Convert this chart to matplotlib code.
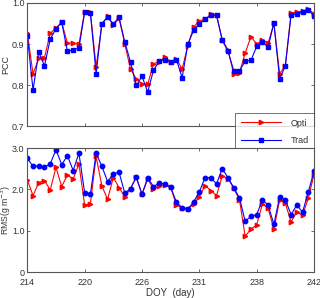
import matplotlib
matplotlib.use('Agg')
import matplotlib.pyplot as plt
import numpy as np

plt.rcParams['font.family'] = ['Liberation Sans', 'DejaVu Sans']

# x positions are day indices; tick labels are the DOY values shown on the axis
tick_idx = [0, 10, 20, 30, 40, 50]
tick_labels = ['214', '220', '226', '231', '238', '242']

pcc_opti = [0.928, 0.827, 0.865, 0.867, 0.926, 0.939, 0.953, 0.902, 0.902, 0.899,
            0.979, 0.978, 0.844, 0.949, 0.968, 0.946, 0.963, 0.900, 0.839, 0.815,
            0.802, 0.802, 0.852, 0.857, 0.868, 0.857, 0.864, 0.839, 0.896, 0.941,
            0.957, 0.960, 0.972, 0.970, 0.910, 0.886, 0.827, 0.830, 0.878, 0.918,
            0.900, 0.909, 0.902, 0.950, 0.828, 0.847, 0.976, 0.978, 0.980, 0.986,
            0.973]
pcc_trad = [0.920, 0.788, 0.880, 0.847, 0.912, 0.937, 0.953, 0.882, 0.886, 0.890,
            0.977, 0.976, 0.828, 0.949, 0.965, 0.949, 0.965, 0.905, 0.856, 0.799,
            0.821, 0.783, 0.836, 0.858, 0.862, 0.856, 0.862, 0.818, 0.900, 0.933,
            0.949, 0.960, 0.970, 0.970, 0.909, 0.882, 0.835, 0.835, 0.858, 0.860,
            0.894, 0.906, 0.892, 0.952, 0.815, 0.847, 0.970, 0.974, 0.978, 0.984,
            0.968]

rms_opti = [2.231, 1.852, 2.167, 2.215, 1.989, 2.531, 2.070, 2.353, 2.248, 2.620,
            1.625, 1.649, 2.797, 2.086, 1.763, 2.288, 2.046, 1.827, 2.021, 2.296,
            1.884, 2.248, 2.013, 2.086, 2.102, 2.054, 1.617, 1.560, 1.536, 1.641,
            1.827, 2.094, 1.973, 1.852, 2.328, 2.264, 2.029, 1.746, 0.865, 1.043,
            1.140, 1.649, 1.544, 1.035, 1.746, 1.665, 1.213, 1.455, 1.375, 1.787,
            2.361]
rms_trad = [2.757, 2.555, 2.571, 2.539, 2.620, 2.959, 2.603, 2.814, 2.458, 2.878,
            1.924, 1.884, 2.878, 2.563, 2.191, 2.377, 2.417, 1.908, 2.021, 2.296,
            1.884, 2.280, 2.070, 2.151, 2.134, 2.054, 1.698, 1.552, 1.520, 1.698,
            1.940, 2.288, 2.288, 2.134, 2.506, 2.280, 2.046, 1.795, 1.229, 1.350,
            1.391, 1.746, 1.617, 1.156, 1.811, 1.746, 1.391, 1.625, 1.447, 1.940,
            2.434]

x = np.arange(len(pcc_opti))
red = '#ff0000'
blue = '#0000ff'
spine_col = '#555555'
txt_col = '#333333'

fig = plt.figure(figsize=(3.2, 2.98), dpi=100)
ax1 = fig.add_axes([0.0853, 0.577, 0.896, 0.413])
ax2 = fig.add_axes([0.0853, 0.087, 0.896, 0.416])

ax1.plot(x, pcc_opti, color=red, lw=0.8, marker='>', ms=3.2, label='Opti')
ax1.plot(x, pcc_trad, color=blue, lw=0.8, marker='s', ms=3.0, label='Trad')
ax2.plot(x, rms_opti, color=red, lw=0.8, marker='>', ms=3.2)
ax2.plot(x, rms_trad, color=blue, lw=0.8, marker='o', ms=3.2)

for ax in (ax1, ax2):
    ax.set_xlim(0, 50)
    ax.set_xticks(tick_idx)
    ax.tick_params(direction='in', top=True, right=True, length=2.5, width=0.6,
                   labelsize=6.5, colors=spine_col, labelcolor=txt_col, pad=2)
    ax.tick_params(axis='x', pad=4)
    for s in ax.spines.values():
        s.set_color(spine_col)
        s.set_linewidth(0.8)

ax1.set_ylim(0.7, 1.0)
ax1.set_yticks([0.7, 0.8, 0.9, 1.0])
ax1.set_yticklabels(['0.7', '0.8', '0.9', '1.0'])
ax1.set_xticklabels([])
ax1.set_ylabel('PCC', fontsize=6.5, color=txt_col)
ax1.yaxis.set_label_coords(-0.058, 0.5)

ax2.set_ylim(0, 3.0)
ax2.set_yticks([0, 1.0, 2.0, 3.0])
ax2.set_yticklabels(['0', '1.0', '2.0', '3.0'])
ax2.set_xticklabels(tick_labels)
ax2.set_ylabel('RMS(g m$^{-3}$)', fontsize=6.2, color=txt_col)
ax2.yaxis.set_label_coords(-0.05, 0.5)
ax2.set_xlabel('DOY  (day)', fontsize=7, color=txt_col, labelpad=1)

leg = ax1.legend(loc='upper right', bbox_to_anchor=(1.0, 0.105), fontsize=6.5,
                 frameon=True, fancybox=False, edgecolor='#333333',
                 handlelength=4.5, borderpad=0.6, labelspacing=0.9,
                 handletextpad=1.0, borderaxespad=0)
leg.get_frame().set_linewidth(0.6)
for t in leg.get_texts():
    t.set_color(txt_col)

fig.savefig('out.png', dpi=100)
